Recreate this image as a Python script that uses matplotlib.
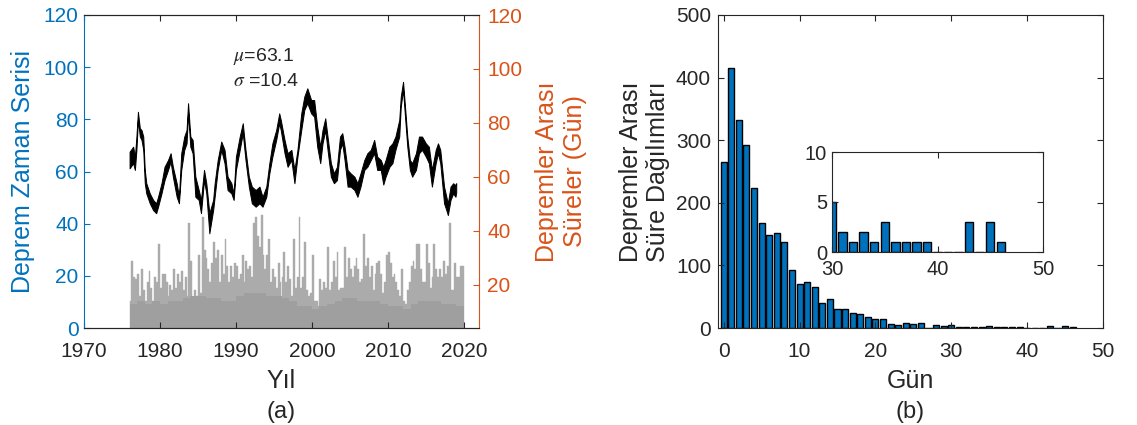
import matplotlib
matplotlib.use("Agg")
import matplotlib.pyplot as plt
import numpy as np

plt.rcParams.update({
    "font.family": ["Liberation Sans", "DejaVu Sans"],
    "font.size": 15,
    "mathtext.fontset": "stix",
    "xtick.direction": "in",
    "ytick.direction": "in",
    "xtick.major.size": 4,
    "ytick.major.size": 4,
    "axes.linewidth": 0.8,
})

BLUE = "#0072BD"
ORANGE = "#D95319"
DARK = "#262626"
GRAY_BODY = "#9f9f9f"
GRAY_SPIKE = "#ababab"
LABEL_SIZE = 18

# longest gap between events (days) in each quarter, 1976.0 onwards
GAP_START = 1976.0
GAP_STEP = 0.25
gap_days = [
    14, 29, 23, 22, 24, 16, 26, 18, 14, 21,
    25, 19, 14, 23, 21, 35, 19, 24, 24, 21,
    16, 20, 18, 26, 19, 24, 21, 25, 18, 23,
    16, 43, 29, 14, 18, 16, 31, 17, 45, 33,
    30, 26, 21, 28, 36, 30, 33, 21, 31, 24,
    37, 27, 21, 27, 23, 28, 27, 22, 24, 31,
    21, 29, 26, 27, 23, 43, 45, 38, 34, 46,
    31, 26, 31, 37, 21, 26, 23, 19, 28, 21,
    23, 32, 21, 27, 22, 16, 37, 19, 23, 45,
    19, 23, 36, 18, 16, 17, 31, 14, 14, 12,
    22, 18, 21, 19, 34, 18, 21, 29, 23, 32,
    18, 19, 19, 34, 23, 30, 26, 23, 27, 30,
    26, 21, 22, 39, 27, 30, 23, 27, 18, 24,
    28, 29, 24, 17, 21, 31, 32, 28, 23, 24,
    21, 18, 16, 26, 14, 13, 18, 21, 27, 29,
    26, 35, 35, 26, 21, 21, 35, 28, 19, 23,
    35, 26, 23, 26, 23, 29, 24, 27, 43, 18,
    18, 28, 23, 23, 27, 27,
]

# typical (dense) gap level for each year 1976..2019
body_start = 1976
gap_typical = [
    13, 14, 13, 14, 13, 14, 14, 15, 16, 16,
    15, 15, 14, 14, 16, 17, 17, 17, 16, 16,
    15, 14, 12, 12, 11, 12, 13, 14, 15, 15,
    14, 14, 14, 13, 12, 12, 11, 13, 14, 14,
    14, 13, 13, 12,
]

# running yearly event count: sample years with the low/high of the jitter band
line_years = [
    1976.0, 1976.47, 1976.7, 1976.9, 1977.1, 1977.35, 1977.57, 1977.8, 1978.0, 1978.2,
    1978.66, 1979.1, 1979.5, 1979.75, 1980.2, 1980.6, 1981.06, 1981.4, 1981.7, 1982.2,
    1982.5, 1982.8, 1983.2, 1983.5, 1983.7, 1984.0, 1984.3, 1984.66, 1985.1, 1985.4,
    1985.8, 1986.1, 1986.5, 1987.0, 1987.2, 1987.6, 1988.07, 1988.5, 1988.9, 1989.4,
    1989.7, 1990.0, 1990.5, 1990.9, 1991.26, 1991.7, 1992.1, 1992.6, 1993.1, 1993.5,
    1994.0, 1994.4, 1994.8, 1995.3, 1995.7, 1995.9, 1996.4, 1996.8, 1997.3, 1997.7,
    1998.1, 1998.6, 1999.0, 1999.4, 1999.9, 2000.3, 2000.7, 2001.1, 2001.4, 2001.76,
    2002.06, 2002.5, 2002.9, 2003.3, 2003.7, 2004.0, 2004.3, 2004.7, 2005.1, 2005.6,
    2006.0, 2006.4, 2006.9, 2007.3, 2007.75, 2008.2, 2008.6, 2009.07, 2009.4, 2009.7,
    2010.2, 2010.6, 2011.0, 2011.5, 2011.7, 2012.0, 2012.26, 2012.56, 2012.9, 2013.2,
    2013.7, 2014.1, 2014.5, 2015.0, 2015.4, 2015.8, 2016.3, 2016.6, 2016.9, 2017.4,
    2017.7, 2017.9, 2018.25, 2018.6, 2018.9, 2019.0,
]
line_low = [
    61.2, 63.2, 60.6, 68.3, 79.8, 73.4, 72.1, 68.3, 55.5, 51.6,
    47.8, 45.2, 44.0, 46.5, 51.6, 56.7, 60.6, 63.8, 58.0, 50.3,
    47.8, 60.6, 68.3, 70.8, 82.3, 69.5, 67.0, 50.3, 49.1, 44.0,
    56.7, 51.6, 36.3, 45.2, 50.3, 60.6, 68.3, 63.2, 52.9, 51.6,
    49.1, 60.6, 68.3, 74.7, 64.4, 54.2, 47.8, 46.5, 47.8, 46.5,
    50.3, 59.3, 65.7, 72.1, 78.5, 75.9, 67.0, 61.8, 64.4, 55.5,
    65.7, 75.9, 83.6, 86.2, 82.3, 81.0, 69.5, 63.2, 70.8, 75.9,
    68.3, 58.0, 55.5, 56.7, 68.3, 70.8, 64.4, 54.2, 54.2, 52.9,
    50.3, 54.2, 60.6, 61.8, 64.4, 67.0, 60.6, 60.6, 55.0, 58.0,
    61.8, 63.2, 68.3, 73.4, 84.9, 91.3, 81.0, 69.5, 60.6, 58.0,
    60.6, 67.0, 68.3, 65.7, 63.2, 54.2, 63.2, 67.0, 63.2, 47.8,
    45.2, 43.3, 49.1, 51.6, 50.3, 52.0,
]
line_high = [
    67.6, 69.5, 65.7, 73.4, 82.9, 76.6, 75.9, 73.4, 60.6, 55.5,
    51.6, 49.1, 47.8, 50.3, 55.5, 61.8, 64.4, 67.0, 61.8, 55.5,
    50.3, 67.0, 73.4, 75.9, 86.2, 73.4, 72.1, 58.0, 52.9, 49.1,
    60.6, 55.5, 44.0, 49.1, 55.5, 64.4, 71.5, 68.3, 58.0, 55.5,
    51.6, 65.7, 73.4, 78.5, 68.3, 58.0, 54.2, 52.9, 54.2, 50.3,
    54.2, 63.2, 70.8, 75.9, 82.3, 79.8, 72.1, 67.0, 68.3, 60.6,
    68.3, 82.3, 88.7, 91.9, 87.4, 87.4, 77.2, 69.5, 75.9, 80.4,
    73.4, 63.2, 59.3, 61.8, 73.4, 74.7, 69.5, 60.6, 59.3, 58.0,
    55.5, 59.3, 64.4, 67.0, 68.3, 72.1, 65.7, 64.4, 61.8, 64.4,
    69.5, 70.8, 73.4, 79.8, 88.7, 94.4, 84.9, 73.4, 64.4, 63.2,
    67.0, 73.4, 73.4, 70.8, 69.5, 60.6, 68.3, 70.8, 68.3, 54.2,
    50.3, 47.8, 54.2, 55.5, 54.8, 55.5,
]

# distribution of inter-event times (days 0..46)
hist_counts = [
    265, 416, 333, 292, 223, 167, 149, 152, 138, 92,
    70, 73, 65, 40, 46, 30, 30, 24, 22, 17,
    14, 14, 6, 5, 8, 6, 8, 0, 5, 3,
    5, 2, 1, 2, 1, 3, 1, 1, 1, 1,
    0, 0, 0, 3, 0, 3, 1,
]
hist_days = list(range(len(hist_counts)))

mean_count = 63.1
std_count = 10.4

W, H = 1137, 425
fig = plt.figure(figsize=(W / 100, H / 100), dpi=100)


def px_axes(left, top, right, bottom):
    return fig.add_axes([left / W, 1 - bottom / H, (right - left) / W, (bottom - top) / H])


# (a) time series with inter-event times
ax = px_axes(84, 15, 479, 328)
ax_r = ax.twinx()

gap_x = GAP_START + GAP_STEP * np.arange(len(gap_days))
ax_r.bar(gap_x, gap_days, width=GAP_STEP, align="edge",
         color=GRAY_SPIKE, edgecolor=GRAY_SPIKE, linewidth=0.3)
body_edges = body_start + np.arange(len(gap_typical) + 1)
ax_r.stairs(gap_typical, body_edges, fill=True, color=GRAY_BODY, linewidth=0)
ax_r.set_ylim(4, 120)
ax_r.set_yticks(range(20, 121, 20))

ax.fill_between(line_years, line_low, line_high, color="black", linewidth=0.7)
ax.set_zorder(ax_r.get_zorder() + 1)
ax.patch.set_visible(False)

ax.set_xlim(1970, 2022)
ax.set_ylim(0, 120)
ax.set_xticks(range(1970, 2021, 10))
ax.set_yticks(range(0, 121, 20))

ax.spines["left"].set_color(BLUE)
ax.spines["right"].set_visible(False)
ax_r.spines["left"].set_visible(False)
ax_r.spines["right"].set_color(ORANGE)
for sp in ("top", "bottom"):
    ax.spines[sp].set_color(DARK)
    ax_r.spines[sp].set_color(DARK)

ax.tick_params(axis="y", colors=BLUE, pad=4)
ax.tick_params(axis="x", colors=DARK, top=True, pad=10)
ax_r.tick_params(axis="y", colors=ORANGE, pad=6)

ax.set_ylabel("Deprem Zaman Serisi", color=BLUE, fontsize=LABEL_SIZE, labelpad=6)
ax_r.set_ylabel("Depremler Arası\nSüreler (Gün)", color=ORANGE, fontsize=LABEL_SIZE, labelpad=9)
ax.set_xlabel("Yıl", color=DARK, fontsize=LABEL_SIZE, labelpad=6)

ax.text(1989.6, 104, rf"$\mu$={mean_count}", fontsize=14, color=DARK, va="center")
ax.text(1989.6, 94.4, rf"$\sigma$ ={std_count}", fontsize=14, color=DARK, va="center")

fig.text(281.5 / W, 1 - 412 / H, "(a)", ha="center", va="center", color=DARK, fontsize=17)

# (b) histogram of inter-event times
bx = px_axes(718, 15, 1103, 328)
bx.bar(hist_days, hist_counts, width=0.8, color=BLUE, edgecolor="black", linewidth=1.0)
bx.set_xlim(-0.75, 50)
bx.set_ylim(0, 500)
bx.set_xticks(range(0, 51, 10))
bx.set_yticks(range(0, 501, 100))
bx.tick_params(colors=DARK, top=True, right=True)
bx.tick_params(axis="x", pad=10)
bx.tick_params(axis="y", pad=5)
for sp in bx.spines.values():
    sp.set_color(DARK)
bx.set_xlabel("Gün", color=DARK, fontsize=LABEL_SIZE, labelpad=6)
bx.set_ylabel("Depremler Arası\nSüre Dağılımları", color=DARK, fontsize=LABEL_SIZE, labelpad=4)

fig.text(910.5 / W, 1 - 412 / H, "(b)", ha="center", va="center", color=DARK, fontsize=17)

# zoom on the tail
ix = px_axes(832, 152, 1043, 252)
ix.bar(hist_days, hist_counts, width=0.8, color=BLUE, edgecolor="black", linewidth=1.0)
ix.set_xlim(30, 50)
ix.set_ylim(0, 10)
ix.set_xticks([30, 40, 50])
ix.set_yticks([0, 5, 10])
ix.tick_params(colors=DARK, top=True, right=True, labelsize=14.5)
ix.tick_params(axis="x", pad=6)
for sp in ix.spines.values():
    sp.set_color(DARK)

fig.savefig("out.png", dpi=100)
